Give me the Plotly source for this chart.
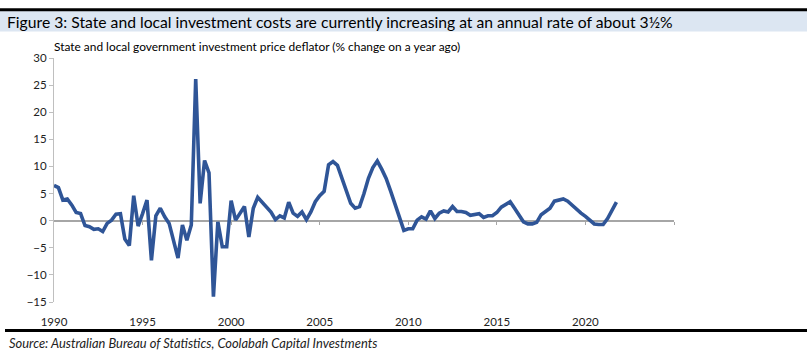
import plotly.graph_objects as go

# Quarterly % change on a year ago, starting 1990 Q1
start_year = 1990
deflator_yoy = [
    6.5, 6.1, 3.8, 4.0, 2.9, 1.5, 1.3, -0.9, -1.1, -1.6,
    -1.5, -2.0, -0.5, 0.1, 1.2, 1.3, -3.4, -4.6, 4.6, -1.0,
    1.3, 3.8, -7.3, 0.9, 2.3, 0.7, -0.5, -3.6, -6.9, -0.8,
    -3.6, -0.8, 26.1, 3.2, 11.1, 8.8, -14.0, -0.2, -4.8, -4.8,
    3.7, 0.1, 1.3, 2.6, -3.0, 2.3, 4.3, 3.4, 2.5, 1.6,
    0.2, 0.9, 0.5, 3.4, 1.4, 0.8, 1.6, 0.2, 1.6, 3.5,
    4.6, 5.4, 10.3, 10.9, 10.2, 8.0, 5.5, 3.2, 2.3, 2.6,
    5.0, 7.8, 9.8, 11.0, 9.5, 7.8, 5.5, 3.0, 0.3, -1.8,
    -1.5, -1.5, 0.1, 0.7, 0.3, 1.8, 0.4, 1.4, 1.8, 1.6,
    2.6, 1.7, 1.7, 1.5, 1.0, 1.2, 1.3, 0.6, 0.9, 0.9,
    1.5, 2.5, 3.1, 3.5, 2.3, 1.0, -0.2, -0.6, -0.6, -0.3,
    1.1, 1.7, 2.3, 3.6, 3.8, 4.0, 3.6, 2.8, 2.2, 1.4,
    0.8, 0.0, -0.6, -0.7, -0.7, 0.4, 2.0, 3.4,
]
quarters = [start_year + i / 4 for i in range(len(deflator_yoy))]

x_tick_years = [1990, 1995, 2000, 2005, 2010, 2015, 2020]
y_ticks = [-15, -10, -5, 0, 5, 10, 15, 20, 25, 30]

title_text = "Figure 3: State and local investment costs are currently increasing at an annual rate of about 3½%"
subtitle_text = "State and local government investment price deflator (% change on a year ago)"
source_text = "Source: Australian Bureau of Statistics, Coolabah Capital Investments"

FONT = "Lato"
W, H = 807, 364
L, R, T, B = 54, 133, 57.5, 61.7
plot_w = W - L - R
plot_h = H - T - B

def px_x(px):
    return (px - L) / plot_w

def px_y(py):
    return (H - B - py) / plot_h

fig = go.Figure()
fig.add_trace(go.Scatter(
    x=quarters, y=deflator_yoy, mode="lines",
    line=dict(color="#2f5597", width=3.6),
    hoverinfo="x+y", showlegend=False,
))
# invisible trace to activate the zero-crossing tick axis
fig.add_trace(go.Scatter(
    x=[quarters[0]], y=[0], xaxis="x2", mode="markers",
    marker=dict(opacity=0), hoverinfo="skip", showlegend=False,
))

fig.update_layout(
    width=W, height=H,
    margin=dict(l=L, r=R, t=T, b=B),
    paper_bgcolor="white", plot_bgcolor="white",
    font=dict(family=FONT, size=11, color="#222222"),
    xaxis=dict(
        range=[1990, 2025], tickvals=x_tick_years,
        showgrid=False, zeroline=False, showline=False,
        ticks="outside", ticklen=9, tickcolor="rgba(0,0,0,0)",
        tickfont=dict(size=11.5, color="#222222"),
    ),
    xaxis2=dict(
        range=[1990, 2025], overlaying="x", anchor="free",
        position=15 / 45,
        tickvals=[1995, 2000, 2005, 2010, 2015, 2020, 2025],
        showticklabels=False, showgrid=False, zeroline=False, showline=False,
        ticks="outside", ticklen=3, tickcolor="#a6a6a6", tickwidth=1,
    ),
    yaxis=dict(
        range=[-15, 30], tickvals=y_ticks,
        showgrid=False, zeroline=True, zerolinecolor="#a6a6a6", zerolinewidth=2,
        showline=True, linecolor="#bfbfbf", linewidth=1,
        ticks="outside", ticklen=4, tickcolor="#bfbfbf",
        tickfont=dict(size=11.5, color="#222222"),
    ),
    shapes=[
        dict(type="rect", xref="paper", yref="paper",
             x0=px_x(0), x1=px_x(W), y0=px_y(31), y1=px_y(10),
             fillcolor="#dce6f2", line=dict(width=0), layer="below"),
        dict(type="line", xref="paper", yref="paper",
             x0=px_x(0), x1=px_x(W), y0=px_y(9), y1=px_y(9),
             line=dict(color="black", width=3)),
        dict(type="line", xref="paper", yref="paper",
             x0=px_x(5), x1=px_x(W), y0=px_y(331), y1=px_y(331),
             line=dict(color="black", width=3)),
    ],
    annotations=[
        dict(text=title_text, xref="paper", yref="paper",
             x=px_x(5), y=px_y(21), xanchor="left", yanchor="middle",
             showarrow=False, font=dict(family=FONT, size=15.7, color="black")),
        dict(text=subtitle_text, xref="paper", yref="paper",
             x=px_x(52), y=px_y(46), xanchor="left", yanchor="middle",
             showarrow=False, font=dict(family=FONT, size=11.9, color="black")),
        dict(text="<i>" + source_text + "</i>", xref="paper", yref="paper",
             x=px_x(7), y=px_y(343), xanchor="left", yanchor="middle",
             showarrow=False, font=dict(family=FONT, size=12.9, color="#222222")),
    ],
)

fig.write_html("out.html", config={"displayModeBar": False},
               post_script="document.body.style.margin='0px';")
